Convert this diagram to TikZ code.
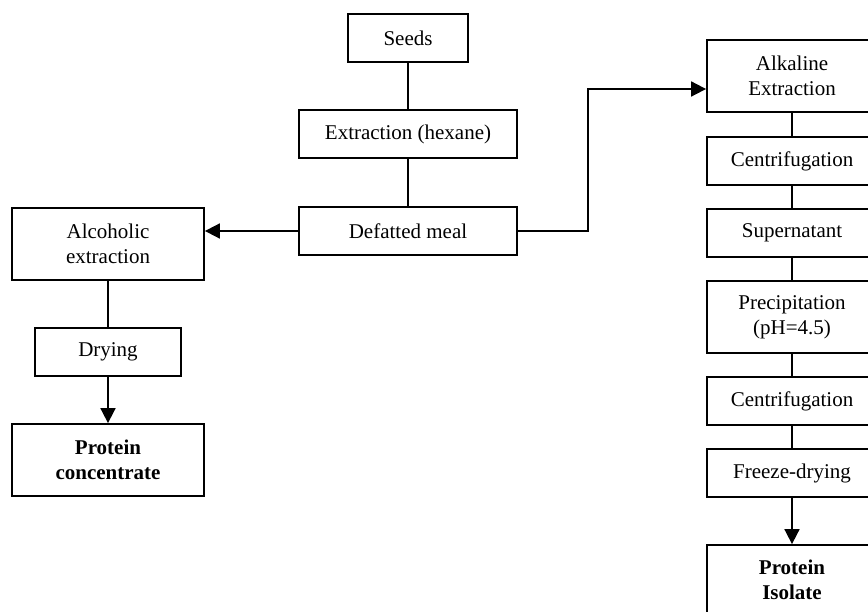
\documentclass[tikz,border=0pt]{standalone}
\usepackage{fontspec}
\setmainfont{Liberation Serif}
\usetikzlibrary{arrows.meta}
\begin{document}
\begin{tikzpicture}[x=1pt,y=-1pt,
  box/.style={draw,line width=1.8pt,inner sep=0pt,align=center,font=\fontsize{21}{25}\selectfont},
  link/.style={line width=1.8pt},
  arr/.style={line width=1.8pt,-{Triangle[length=15pt,width=15pt]}}]
\useasboundingbox (0,0) rectangle (868,612);
\node[box,minimum width=120pt,minimum height=48pt] (seeds) at (408,38) {Seeds};
\node[box,minimum width=218pt,minimum height=48pt] (hex) at (408,134) {Extraction (hexane)};
\node[box,minimum width=218pt,minimum height=48pt] (def) at (408,231) {Defatted meal};
\node[box,minimum width=192pt,minimum height=72pt] (alc) at (108,244) {Alcoholic\\extraction};
\node[box,minimum width=146pt,minimum height=48pt] (dry) at (108,352) {Drying};
\node[box,minimum width=192pt,minimum height=72pt] (conc) at (108,460) {\textbf{Protein}\\\textbf{concentrate}};
\node[box,minimum width=170pt,minimum height=72pt] (alk) at (792,76) {Alkaline\\Extraction};
\node[box,minimum width=170pt,minimum height=48pt] (cen1) at (792,161) {Centrifugation};
\node[box,minimum width=170pt,minimum height=48pt] (sup) at (792,233) {Supernatant};
\node[box,minimum width=170pt,minimum height=72pt] (pre) at (792,317) {Precipitation\\(pH=4.5)};
\node[box,minimum width=170pt,minimum height=48pt] (cen2) at (792,401) {Centrifugation};
\node[box,minimum width=170pt,minimum height=48pt] (frz) at (792,473) {Freeze-drying};
\node[box,minimum width=170pt,minimum height=70pt] (iso) at (792,580) {\textbf{Protein}\\\textbf{Isolate}};
\draw[link] (seeds) -- (hex);
\draw[link] (hex) -- (def);
\draw[arr] (def.west) -- (alc.east |- def.west);
\draw[link] (alc) -- (dry);
\draw[arr] (dry) -- (conc);
\coordinate (bend) at (588,89);
\draw[arr] (def.east) -| (bend) -- (alk.west |- bend);
\draw[link] (alk) -- (cen1);
\draw[link] (cen1) -- (sup);
\draw[link] (sup) -- (pre);
\draw[link] (pre) -- (cen2);
\draw[link] (cen2) -- (frz);
\draw[arr] (frz) -- (iso);
\end{tikzpicture}
\end{document}
